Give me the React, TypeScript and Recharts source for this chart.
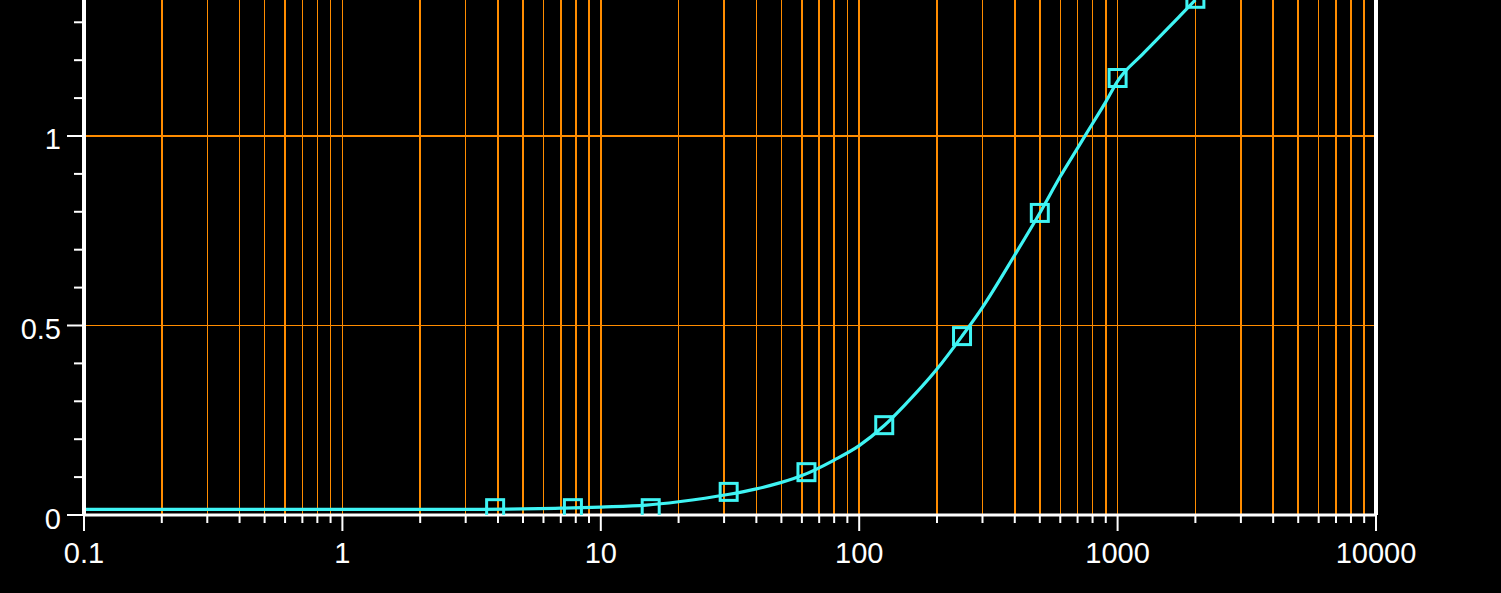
import React from "react";
import { ComposedChart, Line, Scatter, XAxis, YAxis, CartesianGrid, ReferenceLine } from "recharts";

// fitted curve
const curveX = [0.1, 0.3, 1, 3, 5, 7, 10, 15, 20, 31, 40, 50, 60, 80, 100, 125, 150, 200, 250, 300, 400, 500, 600, 700, 800, 900, 1000, 1250, 1400, 1750, 2000];
const curveY = [0.015, 0.015, 0.015, 0.015, 0.016, 0.018, 0.021, 0.026, 0.035, 0.054, 0.069, 0.086, 0.104, 0.145, 0.183, 0.236, 0.29, 0.385, 0.472, 0.548, 0.686, 0.797, 0.893, 0.968, 1.033, 1.09, 1.145, 1.216, 1.25, 1.318, 1.359];

// measured points (two-fold dilutions)
const pointX = [3.9, 7.8, 15.6, 31.25, 62.5, 125, 250, 500, 1000, 2000];
const pointY = [0.018, 0.018, 0.018, 0.061, 0.113, 0.237, 0.472, 0.797, 1.153, 1.362];

const xTicks = [
  0.1, 0.2, 0.3, 0.4, 0.5, 0.6, 0.7, 0.8, 0.9,
  1, 2, 3, 4, 5, 6, 7, 8, 9,
  10, 20, 30, 40, 50, 60, 70, 80, 90,
  100, 200, 300, 400, 500, 600, 700, 800, 900,
  1000, 2000, 3000, 4000, 5000, 6000, 7000, 8000, 9000,
  10000,
];
const xLabels = [0.1, 1, 10, 100, 1000, 10000];
const yTicks = [0, 0.1, 0.2, 0.3, 0.4, 0.5, 0.6, 0.7, 0.8, 0.9, 1, 1.1, 1.2, 1.3];
const yLabels = [0, 0.5, 1];
const yGrid = [0.5, 1];

const curve = curveX.map((x, i) => ({ x, y: curveY[i] }));
const points = pointX.map((x, i) => ({ x, y: pointY[i] }));

const CYAN = "#3ff4f4";
const ORANGE = "#ff8c00";
const FONT = "'Liberation Sans', Arial, sans-serif";

const XTick = (props: any) => {
  const { x, y, payload } = props;
  const major = xLabels.includes(payload.value);
  return (
    <g>
      <line x1={x} x2={x} y1={y} y2={y + (major ? 16 : 8)} stroke="#fff" strokeWidth={2} />
      {major && (
        <text x={x} y={y + 48} textAnchor="middle" fill="#fff" fontSize={29} fontFamily={FONT}>
          {String(payload.value)}
        </text>
      )}
    </g>
  );
};

const YTick = (props: any) => {
  const { x, y, payload } = props;
  const major = yLabels.includes(payload.value);
  return (
    <g>
      <line x1={x - (major ? 17 : 10)} x2={x} y1={y} y2={y} stroke="#fff" strokeWidth={2} />
      {major && (
        <text x={x - 23} y={y + 13.5} textAnchor="end" fill="#fff" fontSize={29} fontFamily={FONT}>
          {String(payload.value)}
        </text>
      )}
    </g>
  );
};

const Square = (props: any) => {
  const { cx, cy } = props;
  if (cx == null || cy == null) return null;
  return <rect x={cx - 8.5} y={cy - 8.5} width={17} height={17} fill="none" stroke={CYAN} strokeWidth={3} />;
};

export default function App() {
  return (
    <div style={{ position: "absolute", left: 0, top: 0, width: 1501, height: 593, background: "#000" }}>
      <ComposedChart width={1501} height={593} margin={{ top: 0, right: 125, bottom: 0, left: 0 }}>
        <CartesianGrid horizontal={false} vertical={true} stroke={ORANGE} strokeWidth={1.5} shapeRendering="crispEdges" />
        {yGrid.map(v => (
          <ReferenceLine key={v} y={v} stroke={ORANGE} strokeWidth={1.5} shapeRendering="crispEdges" />
        ))}
        <XAxis
          dataKey="x"
          type="number"
          scale="log"
          domain={[0.1, 10000]}
          allowDataOverflow
          ticks={xTicks}
          interval={0}
          height={78}
          tickSize={0}
          tickMargin={0}
          tickLine={false}
          tick={<XTick />}
          axisLine={{ stroke: "#fff", strokeWidth: 3 }}
        />
        <YAxis
          dataKey="y"
          type="number"
          domain={[0, 1.3588]}
          allowDataOverflow
          ticks={yTicks}
          interval={0}
          width={84}
          tickSize={0}
          tickMargin={0}
          tickLine={false}
          tick={<YTick />}
          axisLine={{ stroke: "#fff", strokeWidth: 4 }}
        />
        <ReferenceLine x={10000} stroke="#fff" strokeWidth={4} />
        <Line
          data={curve}
          dataKey="y"
          type="monotone"
          stroke={CYAN}
          strokeWidth={3.2}
          dot={false}
          isAnimationActive={false}
        />
        <Scatter data={points} dataKey="y" fill="none" shape={<Square />} isAnimationActive={false} />
      </ComposedChart>
    </div>
  );
}
